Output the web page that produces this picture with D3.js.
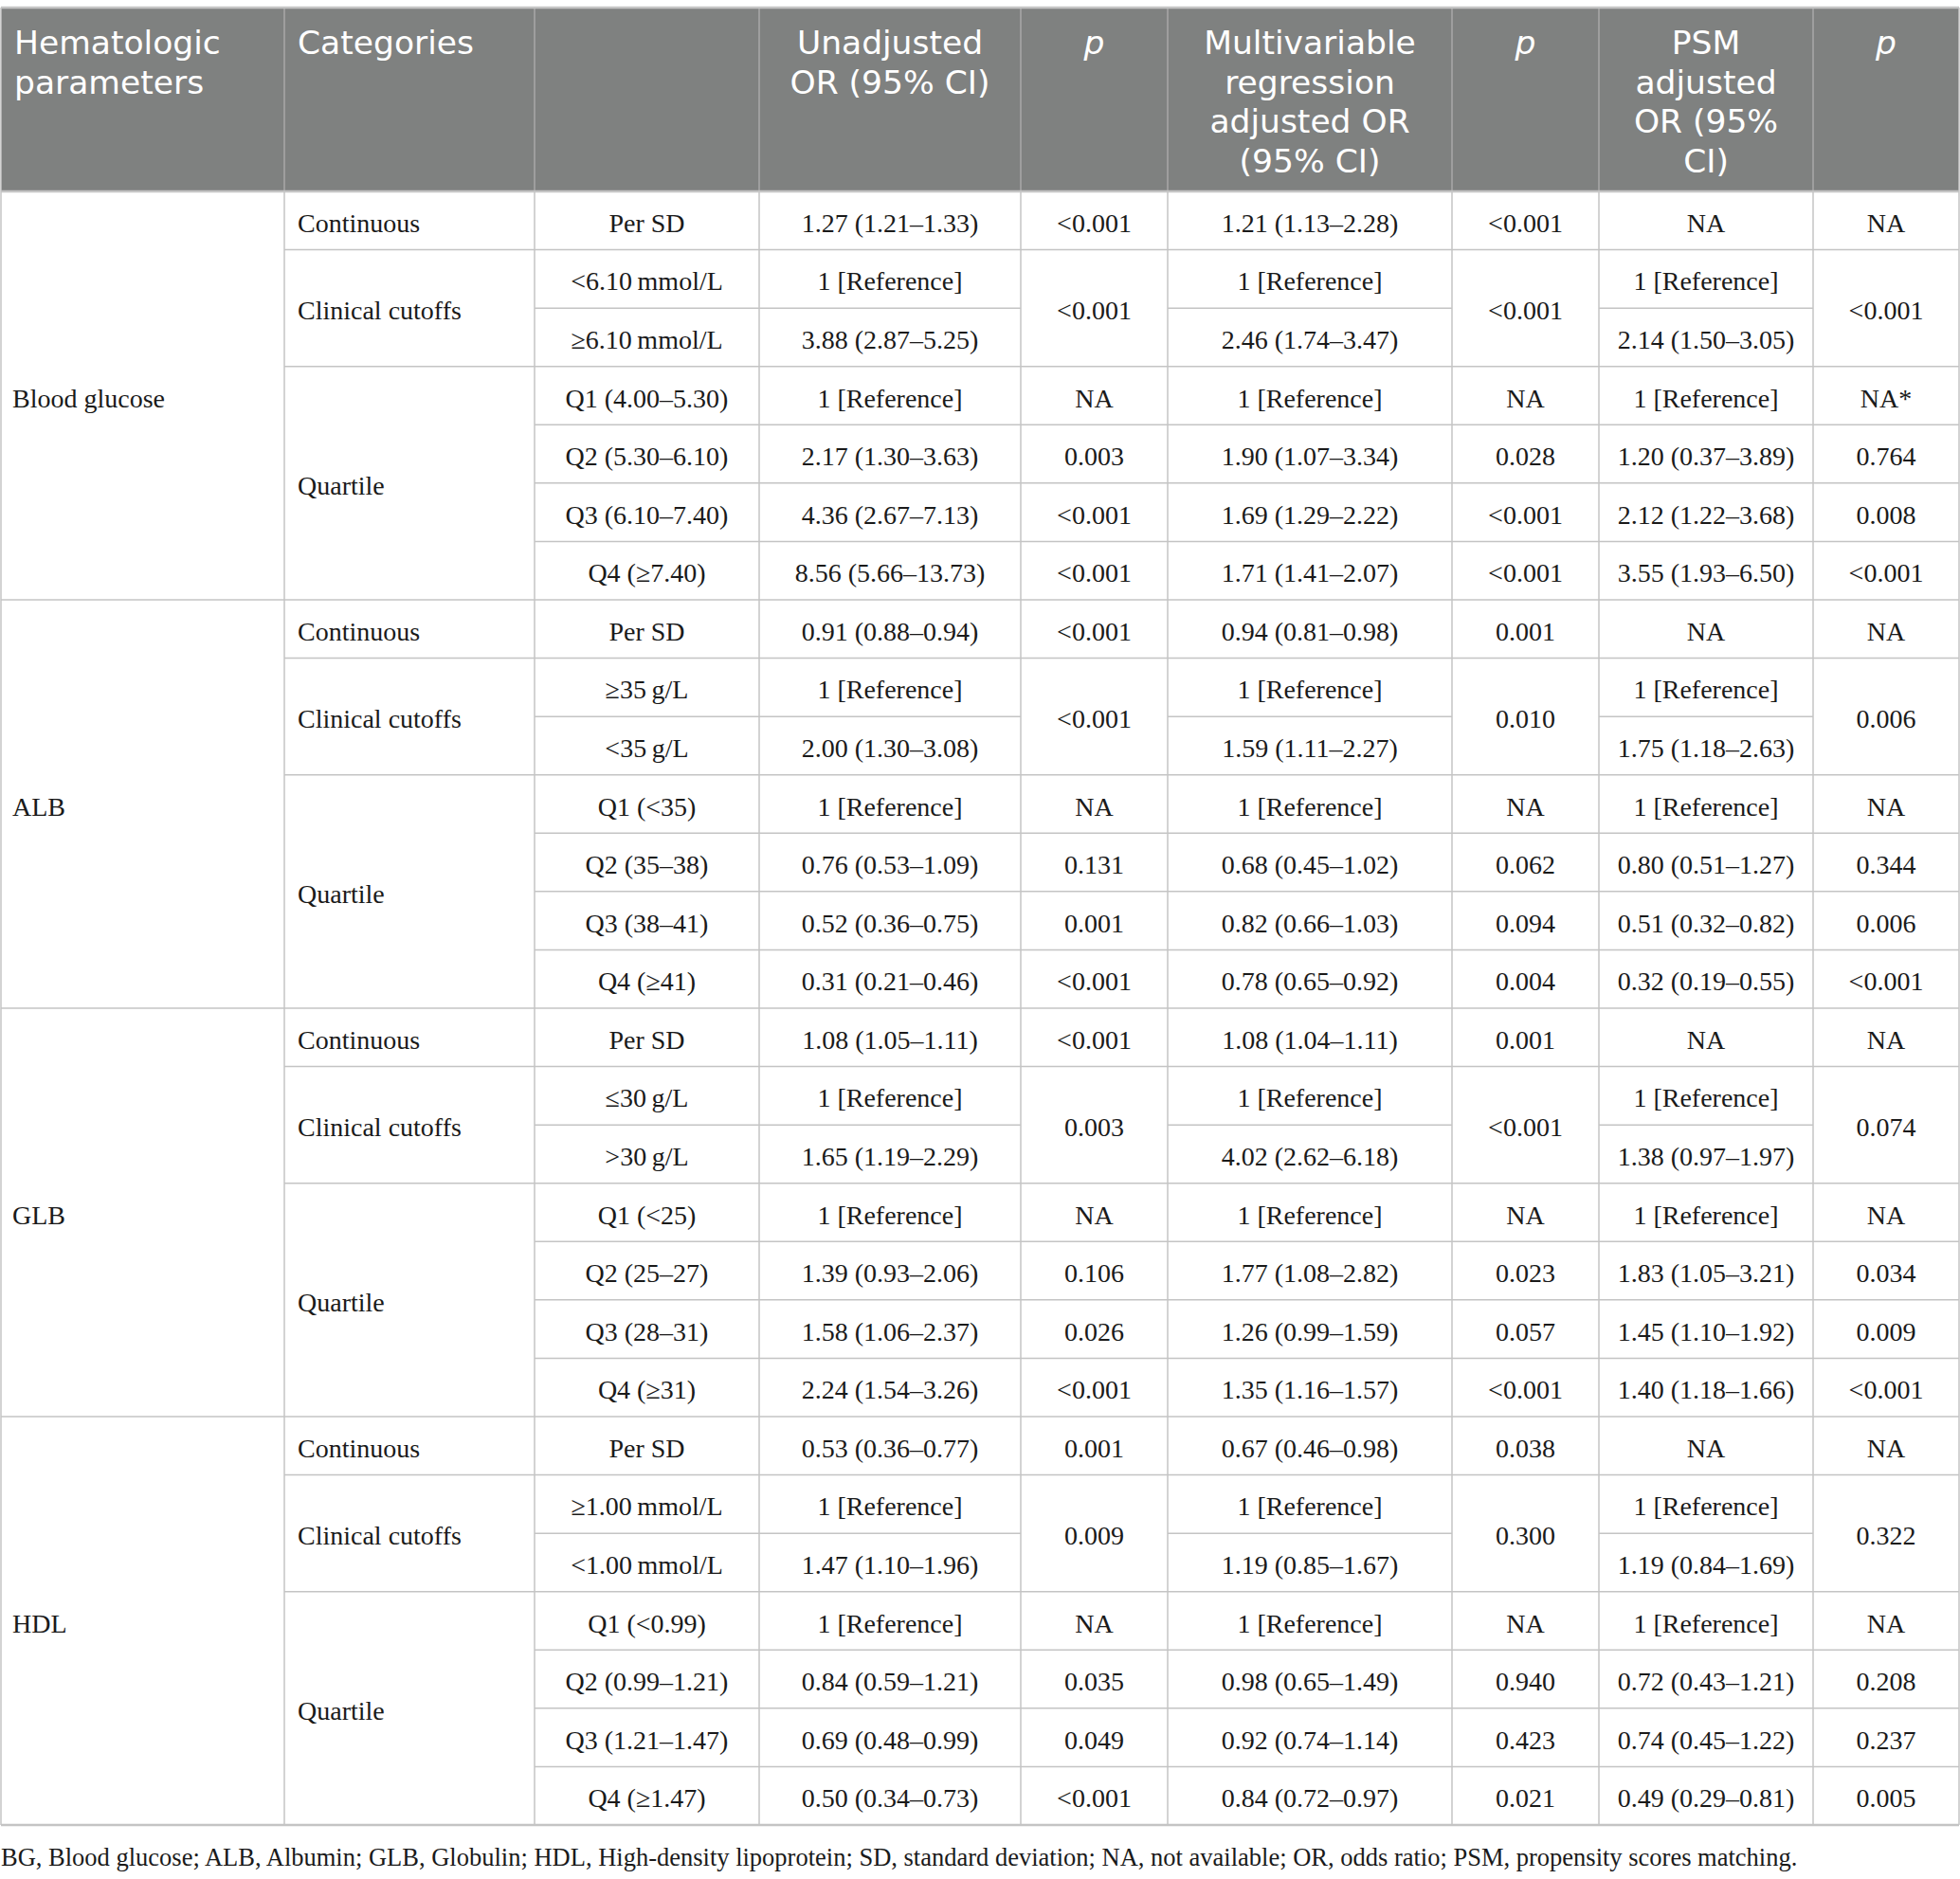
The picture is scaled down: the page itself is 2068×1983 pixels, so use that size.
<!DOCTYPE html>
<html>
<head>
<meta charset="utf-8">
<title>Hematologic parameters OR table</title>
<script src="https://d3js.org/d3.v7.min.js"></script>
<style>
  body { margin: 0; padding: 0; background: #fff; }
  .head { font-family: "DejaVu Sans", sans-serif; font-size: 34.5px; fill: #fff; }
  .cell { font-family: "Liberation Serif", "Times New Roman", serif; font-size: 28px; fill: #1a1a1a; }
  .note { font-family: "Liberation Serif", "Times New Roman", serif; font-size: 26.5px; fill: #1a1a1a; }
</style>
</head>
<body>
<script>
var params = ["Blood glucose", "ALB", "GLB", "HDL"];
var categories = ["Continuous", "Clinical cutoffs", "Quartile"];
var catSpan = [1, 2, 4];   // rows per category

var subLabels = [
  ["Per SD", "<6.10\u2009mmol/L", "\u22656.10\u2009mmol/L", "Q1 (4.00\u20135.30)", "Q2 (5.30\u20136.10)", "Q3 (6.10\u20137.40)", "Q4 (\u22657.40)"],
  ["Per SD", "\u226535\u2009g/L", "<35\u2009g/L", "Q1 (<35)", "Q2 (35\u201338)", "Q3 (38\u201341)", "Q4 (\u226541)"],
  ["Per SD", "\u226430\u2009g/L", ">30\u2009g/L", "Q1 (<25)", "Q2 (25\u201327)", "Q3 (28\u201331)", "Q4 (\u226531)"],
  ["Per SD", "\u22651.00\u2009mmol/L", "<1.00\u2009mmol/L", "Q1 (<0.99)", "Q2 (0.99\u20131.21)", "Q3 (1.21\u20131.47)", "Q4 (\u22651.47)"]
];

var unadjOR = [
  ["1.27 (1.21\u20131.33)", "1 [Reference]", "3.88 (2.87\u20135.25)", "1 [Reference]", "2.17 (1.30\u20133.63)", "4.36 (2.67\u20137.13)", "8.56 (5.66\u201313.73)"],
  ["0.91 (0.88\u20130.94)", "1 [Reference]", "2.00 (1.30\u20133.08)", "1 [Reference]", "0.76 (0.53\u20131.09)", "0.52 (0.36\u20130.75)", "0.31 (0.21\u20130.46)"],
  ["1.08 (1.05\u20131.11)", "1 [Reference]", "1.65 (1.19\u20132.29)", "1 [Reference]", "1.39 (0.93\u20132.06)", "1.58 (1.06\u20132.37)", "2.24 (1.54\u20133.26)"],
  ["0.53 (0.36\u20130.77)", "1 [Reference]", "1.47 (1.10\u20131.96)", "1 [Reference]", "0.84 (0.59\u20131.21)", "0.69 (0.48\u20130.99)", "0.50 (0.34\u20130.73)"]
];
// null = merged with the cell above (clinical cutoffs share one p)
var unadjP = [
  ["<0.001", "<0.001", null, "NA", "0.003", "<0.001", "<0.001"],
  ["<0.001", "<0.001", null, "NA", "0.131", "0.001", "<0.001"],
  ["<0.001", "0.003", null, "NA", "0.106", "0.026", "<0.001"],
  ["0.001", "0.009", null, "NA", "0.035", "0.049", "<0.001"]
];
var multiOR = [
  ["1.21 (1.13\u20132.28)", "1 [Reference]", "2.46 (1.74\u20133.47)", "1 [Reference]", "1.90 (1.07\u20133.34)", "1.69 (1.29\u20132.22)", "1.71 (1.41\u20132.07)"],
  ["0.94 (0.81\u20130.98)", "1 [Reference]", "1.59 (1.11\u20132.27)", "1 [Reference]", "0.68 (0.45\u20131.02)", "0.82 (0.66\u20131.03)", "0.78 (0.65\u20130.92)"],
  ["1.08 (1.04\u20131.11)", "1 [Reference]", "4.02 (2.62\u20136.18)", "1 [Reference]", "1.77 (1.08\u20132.82)", "1.26 (0.99\u20131.59)", "1.35 (1.16\u20131.57)"],
  ["0.67 (0.46\u20130.98)", "1 [Reference]", "1.19 (0.85\u20131.67)", "1 [Reference]", "0.98 (0.65\u20131.49)", "0.92 (0.74\u20131.14)", "0.84 (0.72\u20130.97)"]
];
var multiP = [
  ["<0.001", "<0.001", null, "NA", "0.028", "<0.001", "<0.001"],
  ["0.001", "0.010", null, "NA", "0.062", "0.094", "0.004"],
  ["0.001", "<0.001", null, "NA", "0.023", "0.057", "<0.001"],
  ["0.038", "0.300", null, "NA", "0.940", "0.423", "0.021"]
];
var psmOR = [
  ["NA", "1 [Reference]", "2.14 (1.50\u20133.05)", "1 [Reference]", "1.20 (0.37\u20133.89)", "2.12 (1.22\u20133.68)", "3.55 (1.93\u20136.50)"],
  ["NA", "1 [Reference]", "1.75 (1.18\u20132.63)", "1 [Reference]", "0.80 (0.51\u20131.27)", "0.51 (0.32\u20130.82)", "0.32 (0.19\u20130.55)"],
  ["NA", "1 [Reference]", "1.38 (0.97\u20131.97)", "1 [Reference]", "1.83 (1.05\u20133.21)", "1.45 (1.10\u20131.92)", "1.40 (1.18\u20131.66)"],
  ["NA", "1 [Reference]", "1.19 (0.84\u20131.69)", "1 [Reference]", "0.72 (0.43\u20131.21)", "0.74 (0.45\u20131.22)", "0.49 (0.29\u20130.81)"]
];
var psmP = [
  ["NA", "<0.001", null, "NA*", "0.764", "0.008", "<0.001"],
  ["NA", "0.006", null, "NA", "0.344", "0.006", "<0.001"],
  ["NA", "0.074", null, "NA", "0.034", "0.009", "<0.001"],
  ["NA", "0.322", null, "NA", "0.208", "0.237", "0.005"]
];

var headers = [
  ["Hematologic", "parameters"], ["Categories"], [], ["Unadjusted", "OR (95% CI)"], ["p"],
  ["Multivariable", "regression", "adjusted OR", "(95% CI)"], ["p"],
  ["PSM", "adjusted", "OR (95%", "CI)"], ["p"]
];
var footnote = "BG, Blood glucose; ALB, Albumin; GLB, Globulin; HDL, High-density lipoprotein; SD, standard deviation; NA, not available; OR, odds ratio; PSM, propensity scores matching.";

// ---- layout ----
var W = 2068, H = 1983;
var colEdges = [1, 300, 564, 801, 1077, 1232, 1532, 1687, 1913, 2067];
var tableTop = 8, headBottom = 202, tableBottom = 1926;
var rowsPer = 7, nRows = params.length * rowsPer;
var lineCol = "#c4c4c4";

var y = d3.scaleLinear().domain([0, nRows]).range([headBottom, tableBottom]);
var colMid = function(c) { return (colEdges[c] + colEdges[c + 1]) / 2; };
var baseOff = 12;

var svg = d3.select("body").append("svg")
  .attr("width", W).attr("height", H)
  .style("display", "block");

svg.append("rect").attr("width", W).attr("height", H).attr("fill", "#fff");

// header block
svg.append("rect")
  .attr("x", colEdges[0]).attr("y", tableTop)
  .attr("width", colEdges[9] - colEdges[0]).attr("height", headBottom - tableTop)
  .attr("fill", "#7f8180");

svg.append("g").selectAll("line")
  .data(colEdges.slice(1, -1))
  .enter().append("line")
  .attr("x1", function(d) { return d; }).attr("x2", function(d) { return d; })
  .attr("y1", tableTop).attr("y2", headBottom)
  .attr("stroke", "#a9a9a9").attr("stroke-width", 1.5);

// one text per header cell, lines as tspans
var hg = svg.append("g");
headers.forEach(function(lines, c) {
  if (!lines.length) return;
  var left = c < 2;
  var x = left ? colEdges[c] + 14 : colMid(c);
  var t = hg.append("text")
    .attr("class", "head")
    .attr("x", x)
    .attr("y", 57)
    .attr("text-anchor", left ? "start" : "middle")
    .style("font-style", lines[0] === "p" ? "italic" : null);
  lines.forEach(function(s, k) {
    t.append("tspan")
      .attr("x", x)
      .attr("dy", k === 0 ? 0 : 41.5)
      .text(s);
  });
});

// ---- body cells ----
var cells = [];
params.forEach(function(p, g) {
  var g0 = g * rowsPer;
  cells.push({ c: 0, r0: g0, r1: g0 + rowsPer, t: p, left: true });
  var r = g0;
  categories.forEach(function(cat, k) {
    cells.push({ c: 1, r0: r, r1: r + catSpan[k], t: cat, left: true });
    r += catSpan[k];
  });
  var cols = [subLabels, unadjOR, unadjP, multiOR, multiP, psmOR, psmP];
  cols.forEach(function(arr, j) {
    arr[g].forEach(function(v, i) {
      if (v === null) return;
      var span = (i + 1 < rowsPer && arr[g][i + 1] === null) ? 2 : 1;
      cells.push({ c: j + 2, r0: g0 + i, r1: g0 + i + span, t: v, left: false });
    });
  });
});

svg.append("g").selectAll("text")
  .data(cells)
  .enter().append("text")
  .attr("class", "cell")
  .attr("x", function(d) { return d.left ? colEdges[d.c] + (d.c === 0 ? 12 : 14) : colMid(d.c); })
  .attr("y", function(d) { return (y(d.r0) + y(d.r1)) / 2 + baseOff; })
  .attr("text-anchor", function(d) { return d.left ? "start" : "middle"; })
  .text(function(d) { return d.t; });

// ---- rules ----
var segs = [];
for (var i = 1; i < nRows; i++) {
  var k = i % rowsPer;
  if (k === 0) segs.push([0, 9, i]);
  else if (k === 1 || k === 3) segs.push([1, 9, i]);
  else if (k === 2) { segs.push([2, 4, i]); segs.push([5, 6, i]); segs.push([7, 8, i]); }
  else segs.push([2, 9, i]);
}

var rg = svg.append("g").attr("stroke", lineCol).attr("stroke-width", 1.5);
rg.selectAll("line.h")
  .data(segs)
  .enter().append("line")
  .attr("class", "h")
  .attr("x1", function(d) { return colEdges[d[0]]; })
  .attr("x2", function(d) { return colEdges[d[1]]; })
  .attr("y1", function(d) { return y(d[2]); })
  .attr("y2", function(d) { return y(d[2]); });

rg.selectAll("line.v")
  .data(colEdges)
  .enter().append("line")
  .attr("class", "v")
  .attr("x1", function(d) { return d; }).attr("x2", function(d) { return d; })
  .attr("y1", headBottom).attr("y2", tableBottom);

rg.selectAll("line.frame")
  .data([tableTop, headBottom, tableBottom])
  .enter().append("line")
  .attr("class", "frame")
  .attr("x1", colEdges[0]).attr("x2", colEdges[9])
  .attr("y1", function(d) { return d; }).attr("y2", function(d) { return d; })
  .attr("stroke-width", 2.5);

rg.selectAll("line.side")
  .data([colEdges[0], colEdges[9]])
  .enter().append("line")
  .attr("class", "side")
  .attr("x1", function(d) { return d; }).attr("x2", function(d) { return d; })
  .attr("y1", tableTop).attr("y2", headBottom);

svg.append("text")
  .attr("class", "note")
  .attr("x", 1).attr("y", 1969)
  .text(footnote);
</script>
</body>
</html>
